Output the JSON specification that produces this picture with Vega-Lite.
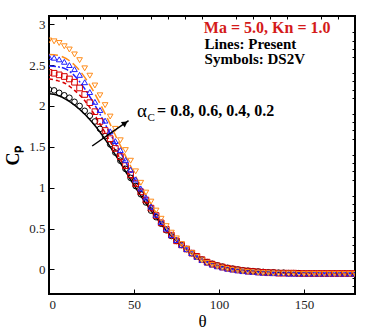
{
  "$schema": "https://vega.github.io/schema/vega-lite/v6.json",
  "width": 306,
  "height": 278,
  "autosize": "none",
  "padding": {"left": 49, "top": 16, "right": 19, "bottom": 38},
  "config": {
    "view": {"stroke": "#000000", "strokeWidth": 2},
    "font": "Liberation Serif",
    "axis": {"labelFont": "Liberation Serif", "titleFont": "Liberation Serif", "labelColor": "#222222", "titleColor": "#000000", "grid": false, "domain": false, "tickColor": "#000000"}
  },
  "datasets": {
    "sym": [
      {"t":0,"b":2.20,"r":2.41,"u":2.60,"o":2.80},
      {"t":3,"b":2.19,"r":2.40,"u":2.59,"o":2.79},
      {"t":6,"b":2.16,"r":2.38,"u":2.57,"o":2.77},
      {"t":9,"b":2.13,"r":2.36,"u":2.54,"o":2.73},
      {"t":12,"b":2.10,"r":2.33,"u":2.50,"o":2.69},
      {"t":15,"b":2.05,"r":2.29,"u":2.45,"o":2.63},
      {"t":18,"b":2.00,"r":2.22,"u":2.38,"o":2.56},
      {"t":21,"b":1.94,"r":2.14,"u":2.29,"o":2.46},
      {"t":24,"b":1.88,"r":2.04,"u":2.17,"o":2.37},
      {"t":27,"b":1.81,"r":1.93,"u":2.05,"o":2.25},
      {"t":30,"b":1.72,"r":1.81,"u":1.95,"o":2.13},
      {"t":33,"b":1.63,"r":1.70,"u":1.82,"o":2.01},
      {"t":36,"b":1.53,"r":1.60,"u":1.69,"o":1.87},
      {"t":39,"b":1.43,"r":1.48,"u":1.57,"o":1.72},
      {"t":42,"b":1.33,"r":1.38,"u":1.46,"o":1.58},
      {"t":45,"b":1.23,"r":1.27,"u":1.34,"o":1.46},
      {"t":48,"b":1.12,"r":1.16,"u":1.22,"o":1.33},
      {"t":51,"b":1.02,"r":1.05,"u":1.10,"o":1.20},
      {"t":54,"b":0.92,"r":0.95,"u":0.99,"o":1.06},
      {"t":57,"b":0.82,"r":0.85,"u":0.88,"o":0.94},
      {"t":60,"b":0.72,"r":0.75,"u":0.77,"o":0.83},
      {"t":63,"b":0.64,"r":0.66,"u":0.67,"o":0.72},
      {"t":66,"b":0.56,"r":0.57,"u":0.58,"o":0.62},
      {"t":69,"b":0.48,"r":0.49,"u":0.50,"o":0.53},
      {"t":72,"b":0.41,"r":0.42,"u":0.42,"o":0.45},
      {"t":75,"b":0.35,"r":0.35,"u":0.36,"o":0.38},
      {"t":78,"b":0.30,"r":0.30,"u":0.30,"o":0.31},
      {"t":81,"b":0.25,"r":0.25,"u":0.25,"o":0.25},
      {"t":84,"b":0.20,"r":0.20,"u":0.20,"o":0.20},
      {"t":87,"b":0.16,"r":0.16,"u":0.155,"o":0.15},
      {"t":90,"b":0.12,"r":0.12,"u":0.115,"o":0.11},
      {"t":93,"b":0.09,"r":0.09,"u":0.085,"o":0.08},
      {"t":96,"b":0.07,"r":0.065,"u":0.06,"o":0.055},
      {"t":99,"b":0.05,"r":0.045,"u":0.04,"o":0.035},
      {"t":102,"b":0.035,"r":0.03,"u":0.025,"o":0.02},
      {"t":105,"b":0.02,"r":0.015,"u":0.01,"o":0.005},
      {"t":108,"b":0.01,"r":0.005,"u":0.0,"o":-0.005},
      {"t":111,"b":0.0,"r":-0.005,"u":-0.01,"o":-0.015},
      {"t":114,"b":-0.01,"r":-0.015,"u":-0.02,"o":-0.025},
      {"t":117,"b":-0.015,"r":-0.02,"u":-0.025,"o":-0.03},
      {"t":120,"b":-0.02,"r":-0.025,"u":-0.03,"o":-0.035},
      {"t":123,"b":-0.025,"r":-0.03,"u":-0.035,"o":-0.04},
      {"t":126,"b":-0.03,"r":-0.035,"u":-0.04,"o":-0.045},
      {"t":129,"b":-0.035,"r":-0.04,"u":-0.04,"o":-0.045},
      {"t":132,"b":-0.035,"r":-0.04,"u":-0.045,"o":-0.05},
      {"t":135,"b":-0.04,"r":-0.045,"u":-0.045,"o":-0.05},
      {"t":138,"b":-0.04,"r":-0.045,"u":-0.045,"o":-0.05},
      {"t":141,"b":-0.045,"r":-0.045,"u":-0.05,"o":-0.05},
      {"t":144,"b":-0.045,"r":-0.045,"u":-0.05,"o":-0.05},
      {"t":147,"b":-0.045,"r":-0.05,"u":-0.05,"o":-0.055},
      {"t":150,"b":-0.05,"r":-0.05,"u":-0.05,"o":-0.055},
      {"t":153,"b":-0.05,"r":-0.05,"u":-0.05,"o":-0.055},
      {"t":156,"b":-0.05,"r":-0.05,"u":-0.05,"o":-0.055},
      {"t":159,"b":-0.05,"r":-0.05,"u":-0.05,"o":-0.055},
      {"t":162,"b":-0.05,"r":-0.05,"u":-0.05,"o":-0.055},
      {"t":165,"b":-0.05,"r":-0.05,"u":-0.05,"o":-0.055},
      {"t":168,"b":-0.05,"r":-0.05,"u":-0.05,"o":-0.055},
      {"t":171,"b":-0.05,"r":-0.05,"u":-0.05,"o":-0.055},
      {"t":174,"b":-0.05,"r":-0.05,"u":-0.05,"o":-0.055},
      {"t":177,"b":-0.05,"r":-0.05,"u":-0.05,"o":-0.055},
      {"t":180,"b":-0.05,"r":-0.05,"u":-0.05,"o":-0.055}
    ],
    "lin": [
      {"t":0,"b":2.15,"r":2.33,"u":2.49,"o":2.63},
      {"t":5,"b":2.13,"r":2.31,"u":2.48,"o":2.62},
      {"t":10,"b":2.08,"r":2.27,"u":2.45,"o":2.58},
      {"t":15,"b":2.01,"r":2.19,"u":2.37,"o":2.50},
      {"t":20,"b":1.92,"r":2.09,"u":2.24,"o":2.38},
      {"t":25,"b":1.81,"r":1.95,"u":2.08,"o":2.22},
      {"t":30,"b":1.68,"r":1.78,"u":1.90,"o":2.03},
      {"t":35,"b":1.53,"r":1.60,"u":1.70,"o":1.82},
      {"t":40,"b":1.37,"r":1.42,"u":1.51,"o":1.60},
      {"t":45,"b":1.20,"r":1.24,"u":1.32,"o":1.39},
      {"t":50,"b":1.03,"r":1.07,"u":1.12,"o":1.18},
      {"t":55,"b":0.87,"r":0.90,"u":0.94,"o":0.98},
      {"t":60,"b":0.72,"r":0.74,"u":0.76,"o":0.80},
      {"t":65,"b":0.58,"r":0.59,"u":0.60,"o":0.63},
      {"t":70,"b":0.45,"r":0.46,"u":0.47,"o":0.48},
      {"t":75,"b":0.35,"r":0.35,"u":0.36,"o":0.37},
      {"t":80,"b":0.26,"r":0.26,"u":0.27,"o":0.27},
      {"t":85,"b":0.18,"r":0.18,"u":0.185,"o":0.19},
      {"t":90,"b":0.12,"r":0.12,"u":0.12,"o":0.12},
      {"t":95,"b":0.08,"r":0.075,"u":0.07,"o":0.07},
      {"t":100,"b":0.045,"r":0.04,"u":0.035,"o":0.035},
      {"t":105,"b":0.02,"r":0.015,"u":0.01,"o":0.01},
      {"t":110,"b":0.0,"r":-0.005,"u":-0.01,"o":-0.01},
      {"t":115,"b":-0.01,"r":-0.015,"u":-0.02,"o":-0.02},
      {"t":120,"b":-0.02,"r":-0.025,"u":-0.03,"o":-0.03},
      {"t":130,"b":-0.035,"r":-0.04,"u":-0.04,"o":-0.045},
      {"t":140,"b":-0.04,"r":-0.045,"u":-0.045,"o":-0.05},
      {"t":150,"b":-0.045,"r":-0.05,"u":-0.05,"o":-0.05},
      {"t":160,"b":-0.05,"r":-0.05,"u":-0.05,"o":-0.055},
      {"t":170,"b":-0.05,"r":-0.05,"u":-0.05,"o":-0.055},
      {"t":180,"b":-0.05,"r":-0.05,"u":-0.05,"o":-0.055}
    ]
  },
  "layer": [
    {
      "data": {"name": "lin"},
      "transform": [{"fold": ["b","r","u","o"], "as": ["k","cp"]}],
      "mark": {"type": "line", "strokeWidth": 1.5, "interpolate": "monotone", "clip": true},
      "encoding": {
        "x": {"field": "t", "type": "quantitative", "scale": {"domain": [0,180], "nice": false, "zero": false},
              "axis": {"values": [0,50,100,150], "tickSize": -5, "tickWidth": 1, "labelFontSize": 13, "labelPadding": 9, "title": "θ", "titleFontSize": 17, "titleFontWeight": "normal", "titlePadding": 2}},
        "y": {"field": "cp", "type": "quantitative", "scale": {"domain": [-0.3,3.1], "nice": false, "zero": false},
              "axis": {"values": [0,0.5,1,1.5,2,2.5,3], "format": "~g", "tickSize": -5, "tickWidth": 1, "labelFontSize": 13, "labelPadding": 9, "title": "Cₚ", "titleFontSize": 18, "titleFontWeight": "bold", "titlePadding": 6}},
        "color": {"field": "k", "type": "nominal", "scale": {"domain": ["b","r","u","o"], "range": ["#000000","#d70000","#1f1fff","#ff8c1a"]}, "legend": null},
        "strokeDash": {"field": "k", "type": "nominal", "scale": {"domain": ["b","r","u","o"], "range": [[1,0],[4,3],[7,2,2,2],[9,4]]}, "legend": null}
      }
    },
    {
      "data": {"name": "sym"},
      "transform": [{"fold": ["b","r","u","o"], "as": ["k","cp"]}],
      "mark": {"type": "point", "filled": false, "size": 32, "strokeWidth": 1, "opacity": 1, "clip": true},
      "encoding": {
        "x": {"field": "t", "type": "quantitative",
              "axis": {"values": [10,20,30,40,60,70,80,90,110,120,130,140,160,170], "tickSize": -3, "tickWidth": 1, "labels": false, "title": null}},
        "y": {"field": "cp", "type": "quantitative",
              "axis": {"values": [-0.2,-0.1,0.1,0.2,0.3,0.4,0.6,0.7,0.8,0.9,1.1,1.2,1.3,1.4,1.6,1.7,1.8,1.9,2.1,2.2,2.3,2.4,2.6,2.7,2.8,2.9,3.1], "tickSize": -3, "tickWidth": 1, "labels": false, "title": null}},
        "color": {"field": "k", "type": "nominal", "legend": null},
        "shape": {"field": "k", "type": "nominal", "scale": {"domain": ["b","r","u","o"], "range": ["circle","square","triangle-up","triangle-down"]}, "legend": null}
      }
    },
    {
      "data": {"values": [{"t": 25.4, "cp": 1.51, "t2": 46.8, "cp2": 1.82}]},
      "mark": {"type": "rule", "color": "#000000", "strokeWidth": 1.5},
      "encoding": {
        "x": {"field": "t", "type": "quantitative", "axis": null},
        "y": {"field": "cp", "type": "quantitative", "axis": null},
        "x2": {"field": "t2"},
        "y2": {"field": "cp2"}
      }
    },
    {
      "data": {"values": [{"t": 44.8, "cp": 1.79}]},
      "mark": {"type": "point", "shape": "triangle-up", "filled": true, "color": "#000000", "size": 45, "angle": 55, "opacity": 1},
      "encoding": {
        "x": {"field": "t", "type": "quantitative", "axis": null},
        "y": {"field": "cp", "type": "quantitative", "axis": null}
      }
    },
    {
      "data": {"values": [{"t": 91.1, "cp": 2.888, "txt": "Ma = 5.0, Kn = 1.0"}]},
      "mark": {"type": "text", "align": "left", "baseline": "alphabetic", "font": "Liberation Serif", "fontSize": 16, "fontWeight": "bold", "color": "#d41a1a"},
      "encoding": {
        "x": {"field": "t", "type": "quantitative", "axis": null},
        "y": {"field": "cp", "type": "quantitative", "axis": null},
        "text": {"field": "txt"}
      }
    },
    {
      "data": {"values": [{"t": 91.5, "cp": 2.696, "txt": "Lines: Present"}, {"t": 91.5, "cp": 2.512, "txt": "Symbols: DS2V"}]},
      "mark": {"type": "text", "align": "left", "baseline": "alphabetic", "font": "Liberation Serif", "fontSize": 15, "fontWeight": "bold", "color": "#000000"},
      "encoding": {
        "x": {"field": "t", "type": "quantitative", "axis": null},
        "y": {"field": "cp", "type": "quantitative", "axis": null},
        "text": {"field": "txt"}
      }
    },
    {
      "data": {"values": [{"t": 51.8, "cp": 1.863, "txt": "α"}]},
      "mark": {"type": "text", "align": "left", "baseline": "alphabetic", "font": "Liberation Serif", "fontSize": 19, "color": "#000000"},
      "encoding": {
        "x": {"field": "t", "type": "quantitative", "axis": null},
        "y": {"field": "cp", "type": "quantitative", "axis": null},
        "text": {"field": "txt"}
      }
    },
    {
      "data": {"values": [{"t": 57.9, "cp": 1.814, "txt": "C"}]},
      "mark": {"type": "text", "align": "left", "baseline": "alphabetic", "font": "Liberation Serif", "fontSize": 11, "color": "#000000"},
      "encoding": {
        "x": {"field": "t", "type": "quantitative", "axis": null},
        "y": {"field": "cp", "type": "quantitative", "axis": null},
        "text": {"field": "txt"}
      }
    },
    {
      "data": {"values": [{"t": 63.6, "cp": 1.871, "txt": "= 0.8, 0.6, 0.4, 0.2"}]},
      "mark": {"type": "text", "align": "left", "baseline": "alphabetic", "font": "Liberation Serif", "fontSize": 16, "fontWeight": "bold", "color": "#000000"},
      "encoding": {
        "x": {"field": "t", "type": "quantitative", "axis": null},
        "y": {"field": "cp", "type": "quantitative", "axis": null},
        "text": {"field": "txt"}
      }
    }
  ],
  "resolve": {"axis": {"x": "independent", "y": "independent"}}
}
